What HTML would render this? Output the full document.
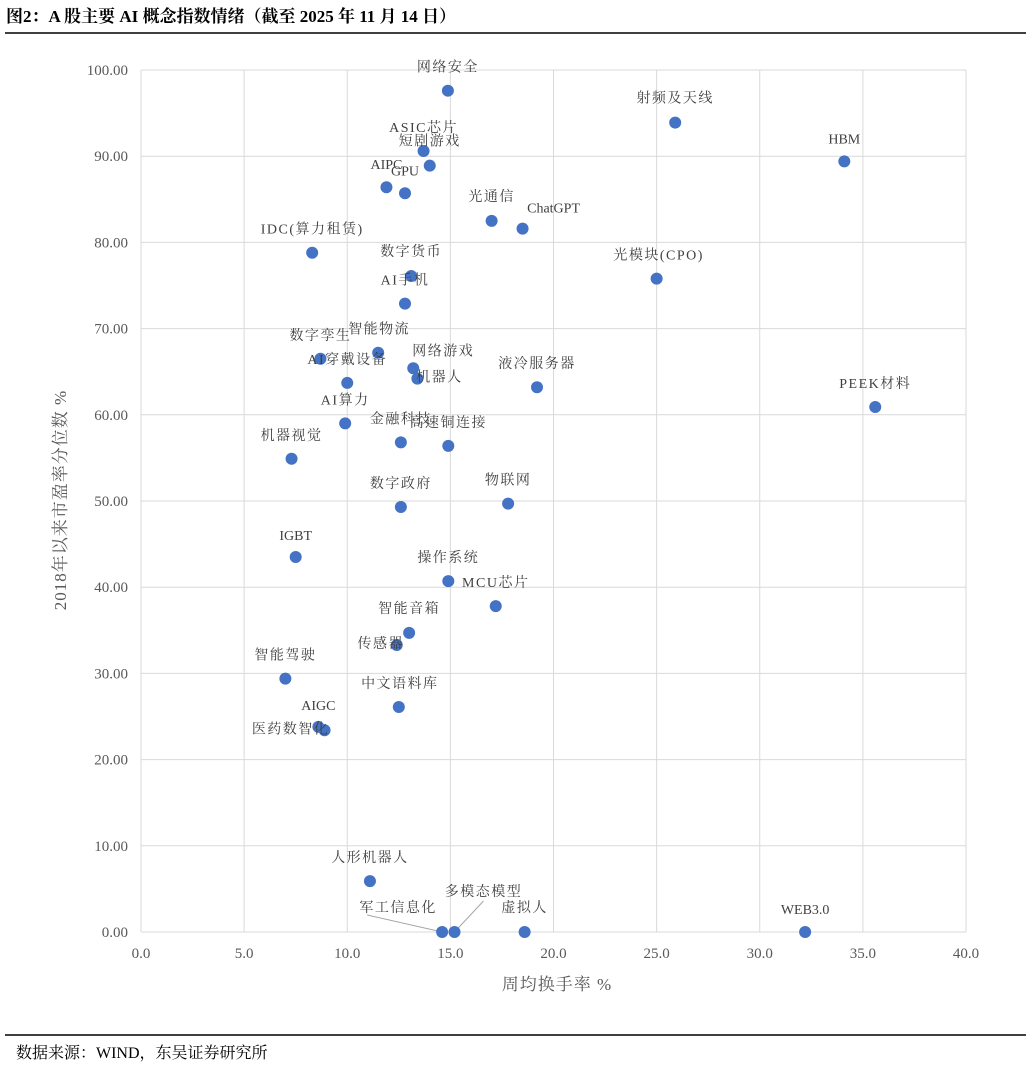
<!DOCTYPE html>
<html><head><meta charset="utf-8"><style>
body{margin:0;background:#fff;width:1031px;height:1067px;overflow:hidden}
svg{font-family:"Liberation Serif","Noto Serif CJK SC",serif}
.tk{font-size:15px;fill:#595959}
.lb{font-size:14px;fill:#404040}
</style></head><body>
<svg width="1031" height="1067">
<text x="6" y="22" font-size="17" font-weight="bold" fill="#000">图2：A 股主要 AI 概念指数情绪（截至 2025 年 11 月 14 日）</text>
<line x1="5" y1="33" x2="1026" y2="33" stroke="#000" stroke-width="1.5"/>
<line x1="5" y1="1035" x2="1026" y2="1035" stroke="#000" stroke-width="1.5"/>
<text x="16" y="1058" font-size="16" fill="#000">数据来源：WIND，东吴证券研究所</text>
<g id="grid"></g><g id="axes"></g><g id="marks"></g>
<text x="557" y="990" text-anchor="middle" font-size="17" fill="#595959" letter-spacing="1">周均换手率 %</text>
<text transform="translate(66,500) rotate(-90)" text-anchor="middle" font-size="17" fill="#595959" letter-spacing="1">2018年以来市盈率分位数 %</text>
</svg>
<script>
const names=["网络安全","射频及天线","HBM","ASIC芯片","短剧游戏","AIPC","GPU","光通信","ChatGPT","IDC(算力租赁)","数字货币","光模块(CPO)","AI手机","智能物流","数字孪生","网络游戏","AI穿戴设备","机器人","液冷服务器","PEEK材料","AI算力","金融科技","高速铜连接","机器视觉","数字政府","物联网","IGBT","操作系统","MCU芯片","智能音箱","传感器","智能驾驶","中文语料库","AIGC","医药数智化","人形机器人","军工信息化","多模态模型","虚拟人","WEB3.0"];
const turnover=[14.88,25.9,34.1,13.7,14.0,11.9,12.8,17.0,18.5,8.3,13.1,25.0,12.8,11.5,8.7,13.2,10.0,13.4,19.2,35.6,9.9,12.6,14.9,7.3,12.6,17.8,7.5,14.9,17.2,13.0,12.4,7.0,12.5,8.6,8.9,11.1,14.6,15.2,18.6,32.2];
const pePct=[97.6,93.9,89.4,90.6,88.9,86.4,85.7,82.5,81.6,78.8,76.1,75.8,72.9,67.2,66.5,65.4,63.7,64.2,63.2,60.9,59.0,56.8,56.4,54.9,49.3,49.7,43.5,40.7,37.8,34.7,33.3,29.4,26.1,23.8,23.4,5.9,0,0,0,0];
const xTicks=["0.0","5.0","10.0","15.0","20.0","25.0","30.0","35.0","40.0"];
const yTicks=["0.00","10.00","20.00","30.00","40.00","50.00","60.00","70.00","80.00","90.00","100.00"];
const off=[[0,-19],[0,-20],[0,-18],[0,-19],[0,-20],[0,-18],[0,-18],[0,-20],[31,-16],[0,-19],[0,-20],[2,-19],[0,-19],[1,-19],[0,-19],[30,-13],[0,-19],[22,3],[0,-19],[0,-19],[0,-19],[0,-19],[0,-19],[0,-19],[0,-19],[0,-19],[0,-17],[0,-19],[0,-19],[0,-20],[-16,3],[0,-19],[1,-19],[0,-17],[-34,3],[0,-19],[-44,-20],[29,-36],[0,-20],[0,-18]];
const X=v=>141+v*825/40, Y=v=>932-v*862/100;
const ns="http://www.w3.org/2000/svg";
function mk(p,t,a){const e=document.createElementNS(ns,t);for(const k in a)e.setAttribute(k,a[k]);p.appendChild(e);return e;}
const g=document.getElementById('grid'),ax=document.getElementById('axes'),m=document.getElementById('marks');
xTicks.forEach(t=>{const x=X(+t);const l=mk(g,'line',{x1:x,y1:Y(100),x2:x,y2:Y(0),stroke:'#d9d9d9'});


const s=mk(ax,'text',{x:x,y:958,'text-anchor':'middle',class:'tk'});s.textContent=t;

});
yTicks.forEach(t=>{const y=Y(+t);const l=mk(g,'line',{x1:X(0),y1:y,x2:X(40),y2:y,stroke:'#d9d9d9'});


const s=mk(ax,'text',{x:128,y:y+5,'text-anchor':'end',class:'tk'});s.textContent=t;

});
names.forEach((n,i)=>{const cx=X(turnover[i]),cy=Y(pePct[i]);
if(i==36||i==37){const ln=mk(m,'line',{x1:i==36?cx-75:cx+29,y1:i==36?cy-17:cy-31,x2:cx,y2:cy,stroke:'#a6a6a6'});

}
const c=mk(m,'circle',{cx:cx,cy:cy,r:6,fill:'#4472c4'});


const t=mk(m,'text',{x:cx+off[i][0],y:cy+off[i][1],'text-anchor':'middle',class:'lb','letter-spacing':/^[\x00-\x7f]+$/.test(n)?0:1.5});t.textContent=n;

});
</script>
</body></html>
